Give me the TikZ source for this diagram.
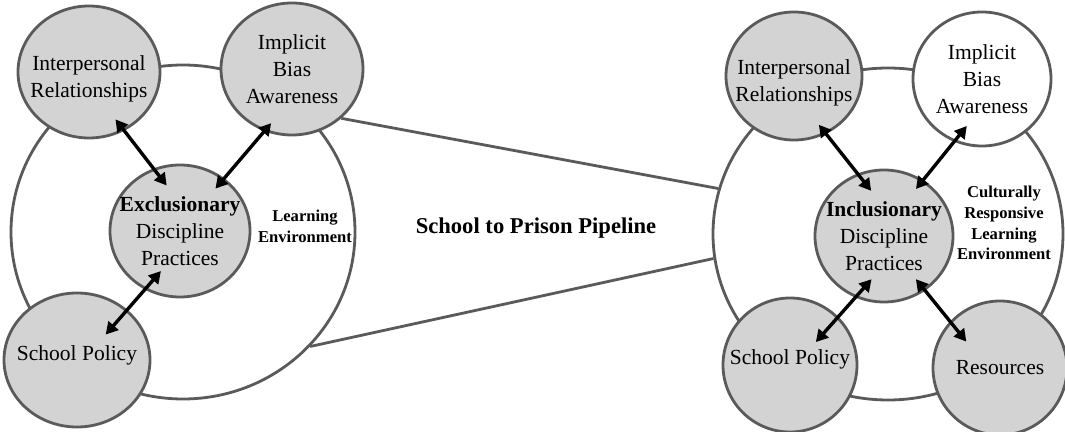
\documentclass[tikz,border=0pt]{standalone}
\usepackage{fontspec}
\setmainfont{Liberation Serif}
\usetikzlibrary{shapes.geometric,arrows.meta}
\definecolor{circfill}{RGB}{211,211,211}
\definecolor{circline}{RGB}{90,90,90}
\begin{document}
\begin{tikzpicture}[x=0.5pt, y=-0.5pt,
		circ/.style={shape=ellipse, line width=1.4pt, draw=circline, fill=circfill, inner sep=-15pt, align=center, font=\fontsize{10.75}{13.6}\selectfont},
		env/.style={shape=ellipse, line width=1.4pt, draw=circline, inner sep=0pt},
		envlabel/.style={align=center, font=\fontsize{8.3}{10.4}\selectfont\bfseries},
		pipe/.style={line width=1.4pt, draw=circline},
		link/.style={line width=1.7pt, {Triangle[length=6pt,width=6.5pt]}-{Triangle[length=6pt,width=6.5pt]}}]
		\useasboundingbox (0,0) rectangle (1065,432);
		% the two learning environments
		\node at (183,232) [env, minimum width=172pt, minimum height=167pt] (envL) {};
		\node at (888,234) [env, minimum width=175pt, minimum height=166pt] (envR) {};
		% left side
		\node at (89,72) [circ, text height=27.6pt, minimum width=71pt, minimum height=66pt] (ipL) {Interpersonal\\Relationships};
		\node at (292,69) [circ, minimum width=71pt, minimum height=66pt] (ibL) {Implicit\\Bias\\Awareness};
		\node at (180,231) [circ, minimum width=70pt, minimum height=66pt] (exL) {\textbf{Exclusionary}\\Discipline\\Practices};
		\node at (77,360) [circ, text depth=7pt, minimum width=73pt, minimum height=67pt] (spL) {School Policy};
		\node at (305,226) [envlabel] (leL) {Learning\\Environment};
		% right side
		\node at (794,76) [circ, text height=28.1pt, minimum width=68pt, minimum height=64pt] (ipR) {Interpersonal\\Relationships};
		\node at (982,79) [circ, fill=white, minimum width=69pt, minimum height=67pt] (ibR) {Implicit\\Bias\\Awareness};
		\node at (884,236) [circ, minimum width=69pt, minimum height=66pt] (inR) {\textbf{Inclusionary}\\Discipline\\Practices};
		\node at (790,365) [circ, text depth=8pt, minimum width=67pt, minimum height=67pt] (spR) {School Policy};
		\node at (1000,368) [circ, minimum width=67pt, minimum height=67pt] (reR) {Resources};
		\node at (1004,223) [envlabel] (leR) {Culturally\\Responsive\\Learning\\Environment};
		% pipeline
		\draw [pipe] (ibL.-45) -- (envR.165);
		\draw [pipe] (envL.-42) -- (envR.188);
		\node at (536,228) [font=\fontsize{11.3}{13}\selectfont\bfseries] (pipeline) {School to Prison Pipeline};
		% arrows
		\draw [link, shorten <=-7.25pt, shorten >=-10.8pt] (ipL.-59) -- (exL.113);
		\draw [link, shorten <=-5.3pt, shorten >=-6.85pt] (ibL.246) -- (exL.50);
		\draw [link, shorten <=-16.5pt, shorten >=-12.3pt] (spL.45) -- (exL.239);
		\draw [link, shorten <=-5.85pt, shorten >=-11pt] (ipR.-61) -- (inR.113);
		\draw [link, shorten <=-10.15pt, shorten >=-5.75pt] (ibR.246.5) -- (inR.55);
		\draw [link, shorten <=-17pt, shorten >=-12.25pt] (spR.45) -- (inR.245);
		\draw [link, shorten <=-13pt, shorten >=-7.4pt] (reR.137) -- (inR.-53);
\end{tikzpicture}
\end{document}
